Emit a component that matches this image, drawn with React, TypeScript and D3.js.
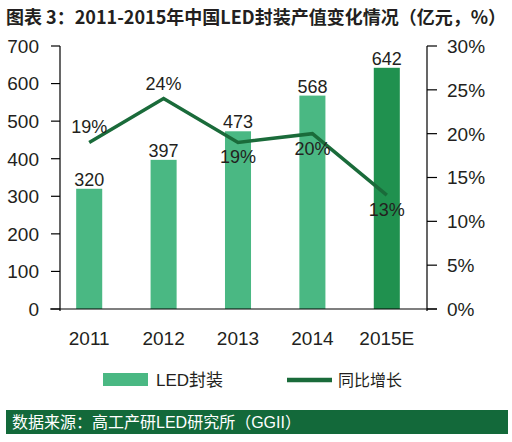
import React, { useRef, useEffect } from 'react';
import * as d3 from 'd3';

const years = ['2011', '2012', '2013', '2014', '2015E'];
const ledValues = [320, 397, 473, 568, 642];
const growthPct = [19, 24, 19, 20, 13];
const growthLabelSide = ['above', 'above', 'below', 'below', 'below'];
const leftTicks = [0, 100, 200, 300, 400, 500, 600, 700];
const rightTicks = [0, 5, 10, 15, 20, 25, 30];

const FONT = '"Liberation Sans", Arial, "Noto Sans CJK SC", sans-serif';
const TITLE_FONT = '"Noto Sans CJK SC", "Liberation Sans", sans-serif';
const TEXT = '#231f20';
const BAR = '#4ab883';
const BAR_EST = '#20914f';
const LINE = '#1a6b3a';
const FOOTER = '#13693a';

const App: React.FC = () => {
  const svgRef = useRef<SVGSVGElement>(null);
  const width = 512;
  const height = 442;

  useEffect(() => {
    if (!svgRef.current) return;
    const svg = d3.select(svgRef.current);
    svg.selectAll('*').remove();

    const x0 = 60, x1 = 427, yTop = 46, yBot = 309;

    const xScale = d3.scaleBand<string>()
      .domain(years)
      .range([52, 424])
      .paddingInner(0.65)
      .paddingOuter(0.325);
    const yLeft = d3.scaleLinear().domain([0, 700]).range([yBot, yTop]);
    const yRight = d3.scaleLinear().domain([0, 30]).range([yBot, yTop]);
    const cx = (d: string) => (xScale(d) ?? 0) + xScale.bandwidth() / 2;

    // Title
    svg.append('text')
      .attr('x', 6)
      .attr('y', 24)
      .attr('font-family', TITLE_FONT)
      .attr('font-size', '18px')
      .attr('font-weight', 700)
      .attr('fill', TEXT)
      .text('图表 3：2011-2015年中国LED封装产值变化情况（亿元，%）');

    // Bars
    svg.selectAll('rect.bar')
      .data(ledValues)
      .enter()
      .append('rect')
      .attr('class', 'bar')
      .attr('x', (d, i) => xScale(years[i]) ?? 0)
      .attr('y', d => yLeft(d))
      .attr('width', xScale.bandwidth())
      .attr('height', d => yBot - yLeft(d))
      .attr('fill', (d, i) => (i === years.length - 1 ? BAR_EST : BAR));

    svg.selectAll('text.val')
      .data(ledValues)
      .enter()
      .append('text')
      .attr('class', 'val')
      .attr('x', (d, i) => cx(years[i]))
      .attr('y', d => yLeft(d) - 3)
      .attr('text-anchor', 'middle')
      .attr('font-family', FONT)
      .attr('font-size', '18px')
      .attr('fill', TEXT)
      .text(d => String(d));

    // Growth line
    const line = d3.line<number>()
      .x((d, i) => cx(years[i]))
      .y(d => yRight(d));

    svg.append('path')
      .datum(growthPct)
      .attr('d', line)
      .attr('fill', 'none')
      .attr('stroke', LINE)
      .attr('stroke-width', 3.5)
      .attr('stroke-linejoin', 'miter');

    svg.selectAll('text.pct')
      .data(growthPct)
      .enter()
      .append('text')
      .attr('class', 'pct')
      .attr('x', (d, i) => cx(years[i]))
      .attr('y', (d, i) => yRight(d) + (growthLabelSide[i] === 'above' ? -9 : 21))
      .attr('text-anchor', 'middle')
      .attr('font-family', FONT)
      .attr('font-size', '18px')
      .attr('fill', TEXT)
      .text(d => `${d}%`);

    // Axes lines
    const axisG = svg.append('g').attr('stroke', '#000').attr('stroke-width', 1.2);
    axisG.append('line').attr('x1', 50).attr('x2', 437).attr('y1', yBot).attr('y2', yBot);
    axisG.append('line').attr('x1', x0).attr('x2', x0).attr('y1', yTop).attr('y2', yBot + 2);
    axisG.append('line').attr('x1', x1).attr('x2', x1).attr('y1', yTop).attr('y2', yBot + 2);

    leftTicks.forEach(t => {
      axisG.append('line').attr('x1', x0 - 9).attr('x2', x0).attr('y1', yLeft(t)).attr('y2', yLeft(t));
      svg.append('text')
        .attr('x', 39)
        .attr('y', yLeft(t))
        .attr('dy', '0.36em')
        .attr('text-anchor', 'end')
        .attr('font-family', FONT)
        .attr('font-size', '19px')
        .attr('fill', TEXT)
        .text(String(t));
    });

    rightTicks.forEach(t => {
      axisG.append('line').attr('x1', x1).attr('x2', x1 + 10).attr('y1', yRight(t)).attr('y2', yRight(t));
      svg.append('text')
        .attr('x', 447)
        .attr('y', yRight(t))
        .attr('dy', '0.36em')
        .attr('text-anchor', 'start')
        .attr('font-family', FONT)
        .attr('font-size', '19px')
        .attr('fill', TEXT)
        .text(`${t}%`);
    });

    years.forEach(yr => {
      svg.append('text')
        .attr('x', cx(yr))
        .attr('y', 345)
        .attr('text-anchor', 'middle')
        .attr('font-family', FONT)
        .attr('font-size', '19px')
        .attr('fill', TEXT)
        .text(yr);
    });

    // Legend
    svg.append('rect')
      .attr('x', 103)
      .attr('y', 373)
      .attr('width', 45)
      .attr('height', 13)
      .attr('fill', BAR);
    svg.append('text')
      .attr('x', 156)
      .attr('y', 386)
      .attr('font-family', FONT)
      .attr('font-size', '17px')
      .attr('fill', TEXT)
      .text('LED封装');
    svg.append('line')
      .attr('x1', 287)
      .attr('x2', 332)
      .attr('y1', 380)
      .attr('y2', 380)
      .attr('stroke', LINE)
      .attr('stroke-width', 4.5);
    svg.append('text')
      .attr('x', 338)
      .attr('y', 386)
      .attr('font-family', FONT)
      .attr('font-size', '16px')
      .attr('fill', TEXT)
      .text('同比增长');

    // Source footer
    svg.append('rect')
      .attr('x', 6)
      .attr('y', 410)
      .attr('width', 502)
      .attr('height', 24)
      .attr('fill', FOOTER);
    svg.append('text')
      .attr('x', 12)
      .attr('y', 428)
      .attr('font-family', FONT)
      .attr('font-size', '16px')
      .attr('fill', '#fff')
      .text('数据来源：高工产研LED研究所（GGII）');
  }, []);

  return (
    <svg
      ref={svgRef}
      width={width}
      height={height}
      style={{ position: 'absolute', left: 0, top: 0, background: '#fff' }}
    />
  );
};

export default App;
